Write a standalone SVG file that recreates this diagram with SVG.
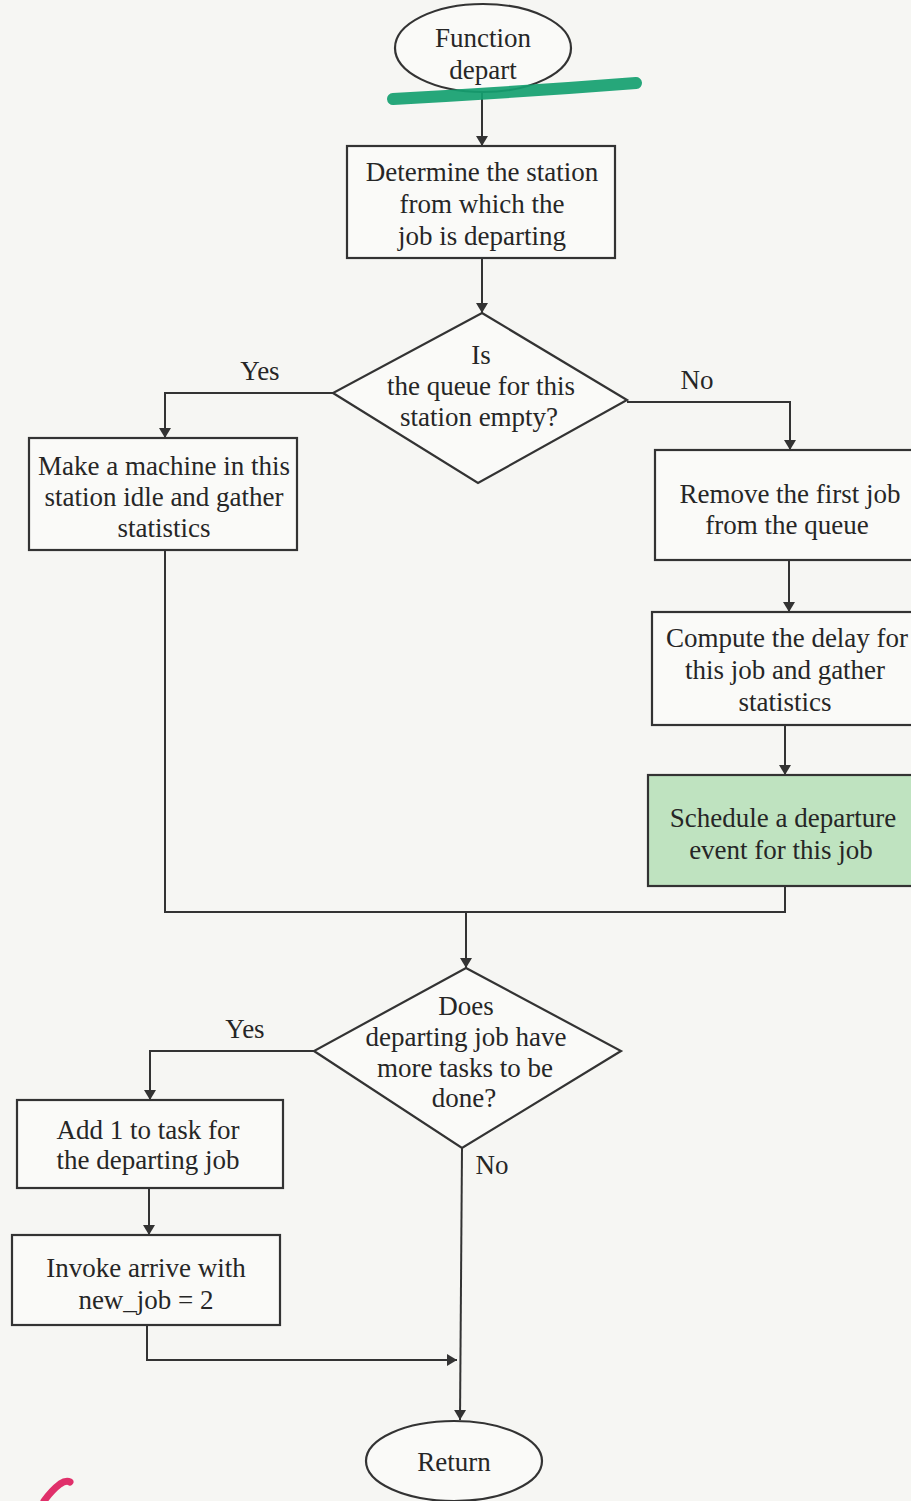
<svg xmlns="http://www.w3.org/2000/svg" width="911" height="1501" viewBox="0 0 911 1501">
  <defs>
    <marker id="arrow" viewBox="0 0 10 14" refX="10" refY="7" markerWidth="10" markerHeight="14" markerUnits="userSpaceOnUse" orient="auto">
      <path d="M0,1 L10,7 L0,13 Z" fill="#333"/>
    </marker>
  </defs>
  <style>
    .box { fill: #fafaf8; stroke: #333; stroke-width: 2.2; }
    .wire { fill: none; stroke: #333; stroke-width: 2; }
    .arr { marker-end: url(#arrow); }
    text { font-family: "Liberation Serif", "Times New Roman", serif; font-size: 27px; fill: #262626; text-anchor: middle; }
  </style>

  <rect width="911" height="1501" fill="#f6f6f3"/>

  <!-- connectors -->
  <g id="connectors">
    <path class="wire arr" d="M482,92 L482,146"/>
    <path class="wire arr" d="M482,258 L482,313"/>
    <path class="wire arr" d="M333,393 L165,393 L165,438"/>
    <path class="wire arr" d="M627,402 L790,402 L790,450"/>
    <path class="wire arr" d="M789,560 L789,612"/>
    <path class="wire arr" d="M785,725 L785,775"/>
    <path class="wire" d="M165,550 L165,912 L785,912 L785,886"/>
    <path class="wire arr" d="M466,912 L466,968"/>
    <path class="wire arr" d="M314,1051 L150,1051 L150,1100"/>
    <path class="wire arr" d="M149,1188 L149,1235"/>
    <path class="wire arr" d="M147,1325 L147,1360 L457,1360"/>
    <path class="wire arr" d="M462,1148 L460,1420"/>
    <text x="260" y="380">Yes</text>
    <text x="697" y="389">No</text>
    <text x="245" y="1038">Yes</text>
    <text x="492" y="1174">No</text>
  </g>

  <!-- start terminal, with highlighter stroke across it -->
  <g id="start">
    <ellipse class="box" cx="483" cy="48" rx="88" ry="44"/>
    <text x="483" y="47">Function</text>
    <text x="483" y="79">depart</text>
    <path d="M393,99 Q520,92 636,83" fill="none" stroke="#14a070" stroke-width="12" stroke-linecap="round" opacity="0.92"/>
  </g>

  <g id="determine">
    <rect class="box" x="347" y="146" width="268" height="112"/>
    <text x="482" y="181">Determine the station</text>
    <text x="482" y="213">from which the</text>
    <text x="482" y="245">job is departing</text>
  </g>

  <g id="queue-empty">
    <polygon class="box" points="482,313 627,400 478,483 333,393"/>
    <text x="481" y="364">Is</text>
    <text x="481" y="395">the queue for this</text>
    <text x="479" y="426">station empty?</text>
  </g>

  <g id="idle">
    <rect class="box" x="29" y="438" width="268" height="112"/>
    <text x="164" y="475">Make a machine in this</text>
    <text x="164" y="506">station idle and gather</text>
    <text x="164" y="537">statistics</text>
  </g>

  <g id="remove">
    <rect class="box" x="655" y="450" width="270" height="110"/>
    <text x="790" y="503">Remove the first job</text>
    <text x="787" y="534">from the queue</text>
  </g>

  <g id="delay">
    <rect class="box" x="652" y="612" width="270" height="113"/>
    <text x="787" y="647">Compute the delay for</text>
    <text x="785" y="679">this job and gather</text>
    <text x="785" y="711">statistics</text>
  </g>

  <g id="schedule">
    <rect x="648" y="775" width="275" height="111" fill="#bfe3c0" stroke="#333" stroke-width="2.2"/>
    <text x="783" y="827">Schedule a departure</text>
    <text x="781" y="859">event for this job</text>
  </g>

  <g id="more-tasks">
    <polygon class="box" points="466,968 621,1051 462,1148 314,1051"/>
    <text x="466" y="1015">Does</text>
    <text x="466" y="1046">departing job have</text>
    <text x="465" y="1077">more tasks to be</text>
    <text x="464" y="1107">done?</text>
  </g>

  <g id="add-task">
    <rect class="box" x="17" y="1100" width="266" height="88"/>
    <text x="148" y="1139">Add 1 to task  for</text>
    <text x="148" y="1169">the departing job</text>
  </g>

  <g id="invoke">
    <rect class="box" x="12" y="1235" width="268" height="90"/>
    <text x="146" y="1277">Invoke arrive with</text>
    <text x="146" y="1309">new_job = 2</text>
  </g>

  <g id="return">
    <ellipse class="box" cx="454" cy="1461" rx="88" ry="40"/>
    <text x="454" y="1471">Return</text>
  </g>

  <!-- pen mark in the lower left corner -->
  <path d="M44,1501 Q52,1490 60,1484 Q66,1480 70,1482" fill="none" stroke="#e0306a" stroke-width="7" stroke-linecap="round"/>
</svg>
